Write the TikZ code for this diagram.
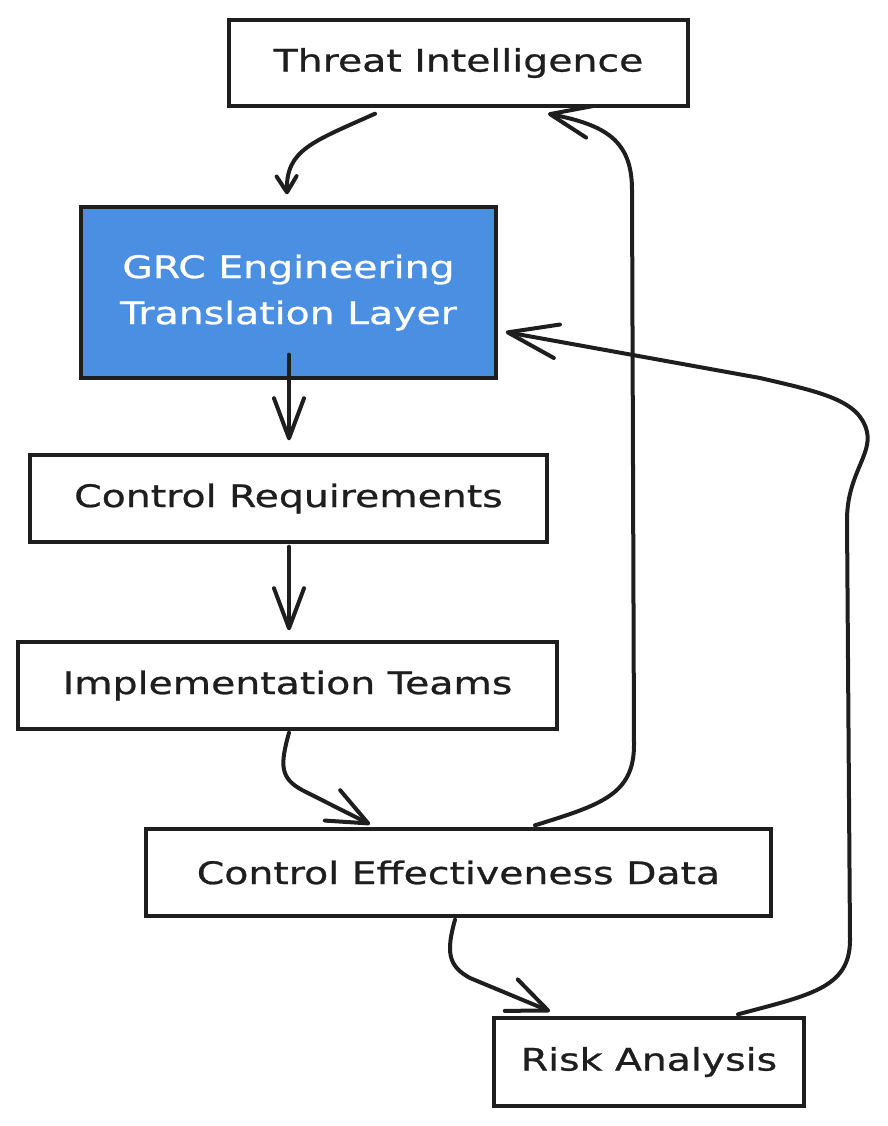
\documentclass[tikz,border=0pt]{standalone}
\usepackage{fontspec}
\setmainfont{DejaVu Sans}[FakeStretch=1.27,FakeBold=0.8]
\usetikzlibrary{arrows.meta}
\definecolor{ink}{HTML}{1E1E1E}
\definecolor{grcblue}{HTML}{4A8FE2}
\begin{document}
\begin{tikzpicture}[x=1pt,y=-1pt,
  box/.style={draw=ink,line width=3.4pt,fill=white,rectangle,inner sep=0pt,
    font=\fontsize{31}{46}\selectfont,text=ink,align=center},
  conn/.style={draw=ink,line width=4pt,line cap=round,line join=round},
  head/.style n args={2}{-{Straight Barb[length=#1pt,width=#2pt,line width=4pt,round]}}]
\useasboundingbox (0,0) rectangle (887,1126);
\node[box,minimum width=459pt,minimum height=86pt] (threat) at (458.5,63) {Threat Intelligence};
\node[box,fill=grcblue,text=white,minimum width=415pt,minimum height=171pt] (grc) at (288.5,292.5) {GRC Engineering\\Translation Layer};
\node[box,minimum width=517pt,minimum height=87pt] (creq) at (288.5,498.5) {Control Requirements};
\node[box,minimum width=539pt,minimum height=87pt] (impl) at (287.5,685.5) {Implementation Teams};
\node[box,minimum width=625pt,minimum height=87pt] (ced) at (458.5,872.5) {Control Effectiveness Data};
\node[box,minimum width=310pt,minimum height=88pt] (risk) at (649,1062) {Risk Analysis};

% 1 threat -> grc
\draw[conn,head={16}{20}] ([xshift=-83.5pt,yshift=-6pt]threat.south) .. controls (312,142) and (286,150) .. ([xshift=-1.5pt,yshift=11pt]grc.north);
% 2 grc -> creq
\draw[conn,head={40}{30}] ([xshift=0.5pt,yshift=25pt]grc.south) -- ([xshift=0.5pt,yshift=13pt]creq.north);
% 3 creq -> impl
\draw[conn,head={40}{30}] ([xshift=0.5pt,yshift=-3pt]creq.south) -- ([xshift=1.5pt,yshift=10pt]impl.north);
% 4 impl -> ced
\draw[conn,head={40}{34}] ([xshift=1.5pt,yshift=-2pt]impl.south) .. controls (280,765) and (280,778) .. (302,790) -- ([xshift=-88.5pt,yshift=3pt]ced.north);
% 5 ced -> risk
\draw[conn,head={40}{34}] ([xshift=-3.5pt,yshift=-2pt]ced.south) .. controls (446,952) and (448,966) .. (470,978) -- ([xshift=-99pt,yshift=5pt]risk.north);
% 6 ced -> threat
\draw[conn,head={40}{32}] ([xshift=76.5pt,yshift=2pt]ced.north) .. controls (600,805) and (634,795) .. (634,745) -- (632,190) .. controls (632,140) and (605,125) .. ([xshift=89.5pt,yshift=-6pt]threat.south);
% 7 risk -> grc
\draw[conn,head={50}{34}] ([xshift=89pt,yshift=2pt]risk.north) .. controls (810,995) and (850,988) .. (850,940) -- (847,520) .. controls (847,475) and (872,455) .. (867,432) .. controls (860,400) and (820,392) .. (760,378) -- ([xshift=8pt,yshift=-39.5pt]grc.east);
\end{tikzpicture}
\end{document}
